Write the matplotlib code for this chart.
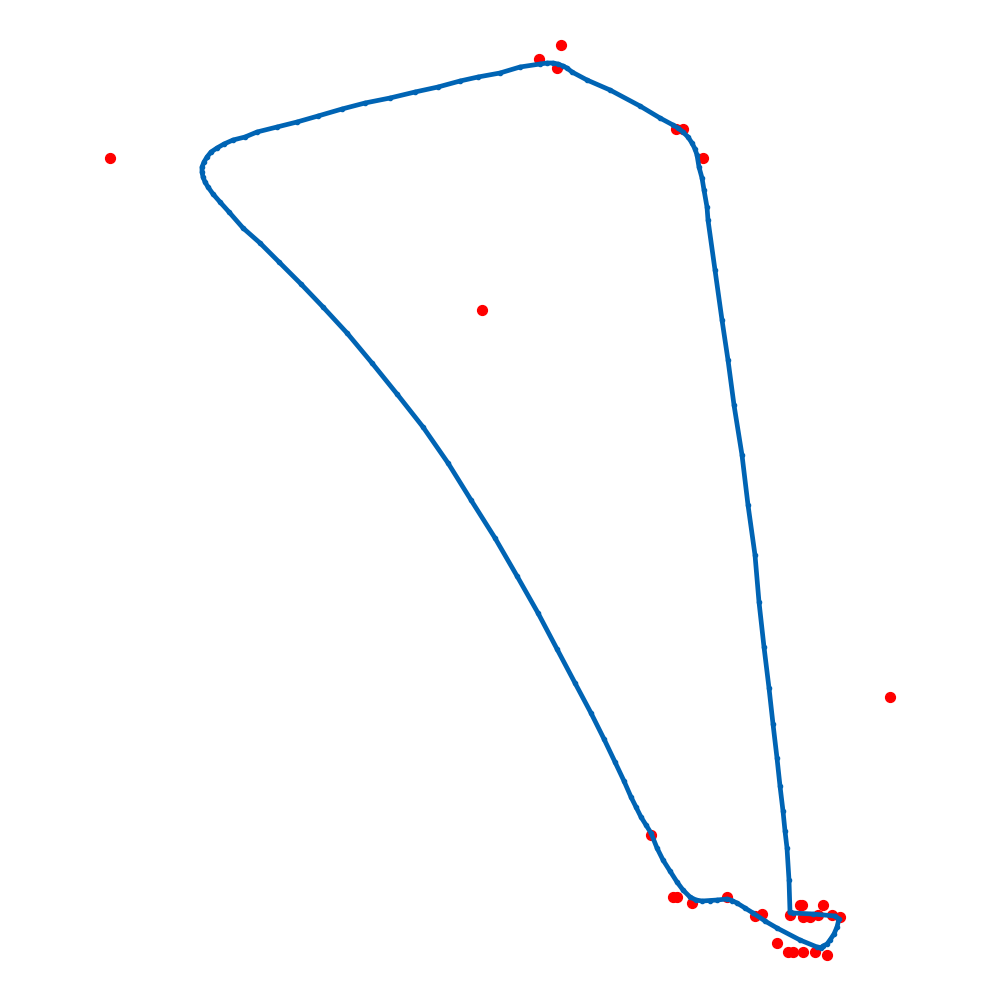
import matplotlib
matplotlib.use("Agg")
import matplotlib.pyplot as plt

# track outline (image coordinates, y grows downward)
track_x = [790, 789, 787, 785, 783, 780, 777, 773, 769, 764, 759, 755, 748, 742, 734,
           728, 722, 715, 708, 707, 704, 702, 699, 697, 695, 692, 688, 683, 678, 673,
           660, 640, 610, 587, 572, 567, 563, 558, 553, 547, 540, 520, 500, 478, 460,
           438, 415, 390, 365, 342, 318, 297, 277, 257, 245, 233, 224, 217, 211, 207,
           204, 202, 202, 203, 205, 208, 213, 220, 229, 243, 260, 279, 301, 323, 347,
           372, 397, 423, 448, 471, 495, 517, 538, 557, 575, 591, 604, 615, 624, 631,
           636, 641, 646, 651, 657, 663, 670, 677, 683, 690, 696, 702, 710, 717, 727,
           732, 737, 745, 753, 765, 777, 800, 817, 821, 823, 827, 830, 834, 837, 839,
           835, 813, 793, 790]
track_y = [912, 880, 848, 831, 811, 786, 758, 724, 688, 647, 602, 555, 505, 455, 405,
           360, 320, 270, 220, 207, 190, 178, 167, 155, 149, 143, 137, 132, 128, 125,
           118, 106, 90, 80, 72, 68, 66, 64, 63, 63, 64, 67, 73, 77, 81,
           87, 92, 98, 103, 109, 116, 122, 127, 132, 137, 140, 144, 148, 152, 157,
           162, 167, 172, 177, 182, 187, 194, 202, 212, 228, 243, 262, 284, 307, 333,
           363, 394, 427, 463, 500, 538, 576, 613, 649, 683, 713, 739, 762, 781, 797,
           807, 817, 825, 833, 848, 860, 871, 882, 890, 897, 900, 901, 900.5, 900, 899,
           900.5, 903, 908, 913, 921, 928, 940, 947, 947.5, 946, 944, 940, 934, 927, 919,
           916, 914, 913, 912]

# outlier detections
pts_x = [110, 482, 890, 561, 539, 557, 676, 683, 703, 651, 673, 677, 692, 727, 755,
         762, 790, 800, 802, 823, 803, 810, 818, 832, 840, 777, 788, 793, 803, 815, 827]
pts_y = [158, 310, 697, 45, 59, 68, 129, 129, 158, 835, 897, 897, 903, 897, 916,
         914, 915, 905, 905, 905, 917, 917, 915, 915, 917, 943, 952, 952, 952, 952, 955]

fig = plt.figure(figsize=(10, 10), dpi=100)
ax = fig.add_axes([0, 0, 1, 1])
ax.scatter(pts_x, pts_y, s=50, color="red", zorder=1)
ax.plot(track_x, track_y, color="#0064b4", linewidth=3.4, marker="o", markersize=3,
        solid_joinstyle="round", solid_capstyle="round", zorder=2)
ax.set_xlim(0, 1000)
ax.set_ylim(1000, 0)
ax.axis("off")
fig.savefig("out.png", dpi=100)
